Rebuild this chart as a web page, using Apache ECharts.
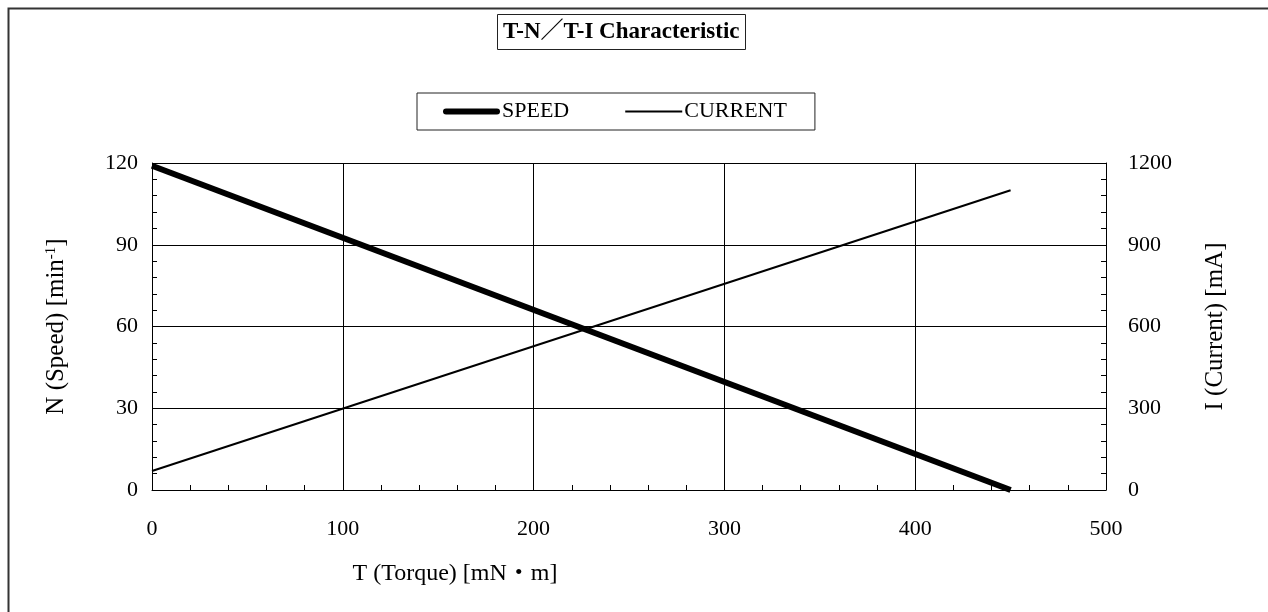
<!DOCTYPE html>
<html>
<head>
<meta charset="utf-8">
<script src="https://cdn.jsdelivr.net/npm/echarts@6/dist/echarts.min.js"></script>
<style>html,body{margin:0;padding:0;background:#fff}#c{width:1268px;height:612px}</style>
</head>
<body>
<div id="c"></div>
<script>
const torque = [0, 450];
const speed = [119, 0];
const current = [70, 1100];
const xTicks = [0, 100, 200, 300, 400, 500];
const speedTicks = [0, 30, 60, 90, 120];
const currentTicks = [0, 300, 600, 900, 1200];
const titleText = 'T-N／T-I Characteristic';
const seriesNames = ['SPEED', 'CURRENT'];

const FONT = "'Liberation Serif','Times New Roman','Noto Sans CJK JP',serif";
const chart = echarts.init(document.getElementById('c'));
const speedData = torque.map((t, i) => [t, speed[i]]);
const currentData = torque.map((t, i) => [t, current[i]]);

chart.setOption({
  animation: false,
  backgroundColor: '#fff',
  graphic: [{
    type: 'rect', left: 6, top: 6,
    shape: { width: 1300, height: 700 },
    style: { fill: 'none', stroke: '#333', lineWidth: 2 }
  }],
  title: {
    text: titleText,
    left: 497, top: 14,
    padding: [6, 6, 5, 6],
    borderColor: '#222', borderWidth: 1,
    textStyle: { fontFamily: FONT, fontSize: 23, lineHeight: 25, fontWeight: 'bold', color: '#000' }
  },
  legend: {
    left: 417, top: 93,
    padding: [7, 28, 7, 26],
    borderColor: '#222', borderWidth: 1,
    itemWidth: 57, itemHeight: 14, itemGap: 56,
    textStyle: { fontFamily: FONT, fontSize: 22, lineHeight: 23, color: '#000', padding: [0, 0, 0, -3] },
    data: [
      { name: seriesNames[0], icon: 'path://M3,0 H54 A3,3 0 0 1 54,6 H3 A3,3 0 0 1 3,0 Z' },
      { name: seriesNames[1], icon: 'path://M0,0 H52 V1.6 H0 Z' }
    ]
  },
  grid: { left: 152, right: 162, top: 163, bottom: 122, containLabel: false },
  xAxis: {
    type: 'value', min: xTicks[0], max: xTicks[xTicks.length - 1], interval: 100,
    name: 'T (Torque) [mN・m]', nameLocation: 'middle', nameGap: 72,
    nameTextStyle: { fontFamily: FONT, fontSize: 24, color: '#000', padding: [0, 348, 0, 0] },
    axisLine: { lineStyle: { color: '#000', width: 1 } },
    axisTick: { inside: true, length: 5, lineStyle: { color: '#000' } },
    minorTick: { show: true, splitNumber: 5, length: 5, lineStyle: { color: '#000' } },
    axisLabel: { fontFamily: FONT, fontSize: 22, color: '#000', margin: 28 },
    splitLine: { show: true, lineStyle: { color: '#000', width: 1 } }
  },
  yAxis: [{
    type: 'value', min: speedTicks[0], max: speedTicks[speedTicks.length - 1], interval: 30,
    name: 'N (Speed) [min{sup|-1}]', nameLocation: 'middle', nameGap: 83, nameRotate: 90,
    nameTextStyle: { fontFamily: FONT, fontSize: 25, color: '#000',
      rich: { sup: { fontFamily: FONT, fontSize: 15, color: '#000', verticalAlign: 'top', lineHeight: 25 } } },
    axisLine: { show: true, lineStyle: { color: '#000', width: 1 } },
    axisTick: { show: true, inside: true, length: 5, lineStyle: { color: '#000' } },
    minorTick: { show: true, splitNumber: 5, length: 5, lineStyle: { color: '#000' } },
    axisLabel: { fontFamily: FONT, fontSize: 22, color: '#000', margin: 14 },
    splitLine: { show: true, lineStyle: { color: '#000', width: 1 } }
  }, {
    type: 'value', min: currentTicks[0], max: currentTicks[currentTicks.length - 1], interval: 300,
    position: 'right',
    name: 'I (Current) [mA]', nameLocation: 'middle', nameGap: 97, nameRotate: 90,
    nameTextStyle: { fontFamily: FONT, fontSize: 25, color: '#000' },
    axisLine: { show: true, lineStyle: { color: '#000', width: 1 } },
    axisTick: { show: true, inside: true, length: 5, lineStyle: { color: '#000' } },
    minorTick: { show: true, splitNumber: 5, length: 5, lineStyle: { color: '#000' } },
    axisLabel: { fontFamily: FONT, fontSize: 22, color: '#000', margin: 22, formatter: v => String(v) },
    splitLine: { show: false }
  }],
  series: [{
    name: seriesNames[0], type: 'line', yAxisIndex: 0, data: speedData,
    symbol: 'none', showSymbol: false,
    lineStyle: { color: '#000', width: 6 }, itemStyle: { color: '#000' }
  }, {
    name: seriesNames[1], type: 'line', yAxisIndex: 1, data: currentData,
    symbol: 'none', showSymbol: false,
    lineStyle: { color: '#000', width: 2 }, itemStyle: { color: '#000' }
  }]
});
</script>
</body>
</html>
